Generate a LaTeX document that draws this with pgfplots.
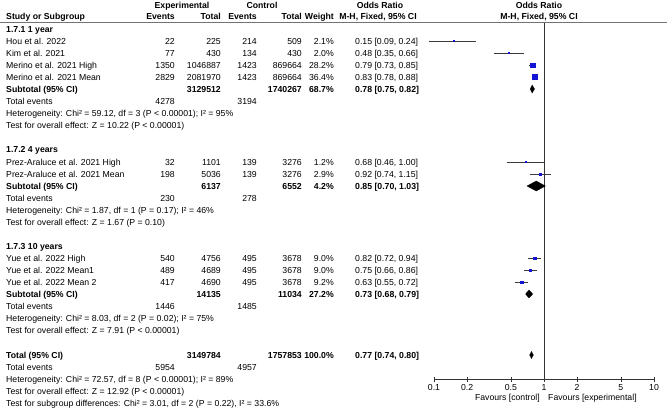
\documentclass[border=0pt]{standalone}
\usepackage{fontspec}
\setmainfont{Liberation Sans}
\usepackage{pgfplots}
\pgfplotsset{compat=1.18}
\definecolor{sqblue}{RGB}{20,20,210}
\definecolor{ciline}{RGB}{60,60,60}
\newcommand\fnt{\fontsize{8.7bp}{10bp}\selectfont}
\newcommand\Lt[3]{\node[anchor=base west,inner sep=0pt] at (#1,{-(#2)-3}) {#3};}
\newcommand\Rt[3]{\node[anchor=base east,inner sep=0pt] at (#1,{-(#2)-3}) {#3};}
\newcommand\Ct[3]{\node[anchor=base,inner sep=0pt] at (#1,{-(#2)-3}) {#3};}
\newcommand\Row[8]{%
  \Lt{6}{#1}{#2}\Rt{175}{#1}{#3}\Rt{221}{#1}{#4}\Rt{257}{#1}{#5}\Rt{302}{#1}{#6}\Rt{334}{#1}{#7}\Lt{355}{#1}{#8}}
\begin{document}
\begin{tikzpicture}[x=1bp,y=1bp,every node/.style={font=\fnt}]
\useasboundingbox (0,0) rectangle (667,-411);
\begin{axis}[at={(434bp,-379bp)}, anchor=south west, scale only axis,
  width=220bp, height=357bp, xmode=log, log basis x=10,
  xmin=0.1, xmax=10, ymin=-379, ymax=-22,
  axis x line=bottom, axis y line=none,
  axis line style={-, draw=black!80, line width=0.7bp},
  xtick={0.1,0.2,0.5,1,2,5,10}, xticklabels={0.1,0.2,0.5,1,2,5,10},
  xminorticks=false, tick align=center, major tick length=5bp,
  tick style={black!80, line width=0.7bp},
  /pgf/number format/assume math mode=true,
  xticklabel style={font=\fnt, inner sep=0pt, yshift=-2.5bp},
  clip=false]
% line of no effect
\addplot[black!80, line width=0.7bp] coordinates {(1,-22) (1,-379)};
% confidence intervals
\addplot[ciline, line width=0.7bp] coordinates {(0.09,-41) (0.24,-41)};
\addplot[ciline, line width=0.7bp] coordinates {(0.35,-53) (0.66,-53)};
\addplot[ciline, line width=0.7bp] coordinates {(0.73,-65) (0.85,-65)};
\addplot[ciline, line width=0.7bp] coordinates {(0.78,-77) (0.88,-77)};
\addplot[ciline, line width=0.7bp] coordinates {(0.46,-162) (1.00,-162)};
\addplot[ciline, line width=0.7bp] coordinates {(0.74,-174) (1.15,-174)};
\addplot[ciline, line width=0.7bp] coordinates {(0.72,-258) (0.94,-258)};
\addplot[ciline, line width=0.7bp] coordinates {(0.66,-270) (0.86,-270)};
\addplot[ciline, line width=0.7bp] coordinates {(0.55,-282) (0.72,-282)};
% study squares
\addplot[only marks, mark=square*, mark size=0.6bp, sqblue] coordinates {(0.15,-41)};
\addplot[only marks, mark=square*, mark size=0.6bp, sqblue] coordinates {(0.48,-53)};
\addplot[only marks, mark=square*, mark size=2.2bp, sqblue] coordinates {(0.79,-65)};
\addplot[only marks, mark=square*, mark size=2.5bp, sqblue] coordinates {(0.83,-77)};
\addplot[only marks, mark=square*, mark size=0.5bp, sqblue] coordinates {(0.68,-162)};
\addplot[only marks, mark=square*, mark size=0.7bp, sqblue] coordinates {(0.92,-174)};
\addplot[only marks, mark=square*, mark size=1.25bp, sqblue] coordinates {(0.82,-258)};
\addplot[only marks, mark=square*, mark size=1.25bp, sqblue] coordinates {(0.75,-270)};
\addplot[only marks, mark=square*, mark size=1.25bp, sqblue] coordinates {(0.63,-282)};
% diamonds
\addplot[fill=black, draw=black, line width=0.3bp] coordinates {(0.75,-89) (0.78,-85) (0.82,-89) (0.78,-93)} -- cycle;
\addplot[fill=black, draw=black, line width=0.3bp] coordinates {(0.70,-186) (0.85,-181) (1.03,-186) (0.85,-191)} -- cycle;
\addplot[fill=black, draw=black, line width=0.3bp] coordinates {(0.68,-294) (0.73,-290) (0.79,-294) (0.73,-298)} -- cycle;
\addplot[fill=black, draw=black, line width=0.3bp] coordinates {(0.74,-355) (0.77,-351.5) (0.80,-355) (0.77,-358.5)} -- cycle;
\end{axis}
% header
\draw[black!55, line width=1bp] (0,-22) -- (667,-22);
\begin{scope}[every node/.append style={font=\fnt\bfseries}]
\Ct{182}{5}{Experimental}
\Ct{262}{5}{Control}
\Ct{380}{5}{Odds Ratio}
\Ct{539}{5}{Odds Ratio}
\Lt{6}{16}{Study or Subgroup}
\Rt{175}{16}{Events}
\Rt{221}{16}{Total}
\Rt{257}{16}{Events}
\Rt{302}{16}{Total}
\Rt{334}{16}{Weight}
\Ct{378}{16}{M-H, Fixed, 95\% CI}
\Ct{539}{16}{M-H, Fixed, 95\% CI}
\Lt{6}{29}{1.7.1 1 year}
\Row{89}{Subtotal (95\% CI)}{}{3129512}{}{1740267}{68.7\%}{0.78 [0.75, 0.82]}
\Lt{6}{149}{1.7.2 4 years}
\Row{186}{Subtotal (95\% CI)}{}{6137}{}{6552}{4.2\%}{0.85 [0.70, 1.03]}
\Lt{6}{246}{1.7.3 10 years}
\Row{294}{Subtotal (95\% CI)}{}{14135}{}{11034}{27.2\%}{0.73 [0.68, 0.79]}
\Row{355}{Total (95\% CI)}{}{3149784}{}{1757853}{100.0\%}{0.77 [0.74, 0.80]}
\end{scope}
% group 1
\Row{41}{Hou et al. 2022}{22}{225}{214}{509}{2.1\%}{0.15 [0.09, 0.24]}
\Row{53}{Kim et al. 2021}{77}{430}{134}{430}{2.0\%}{0.48 [0.35, 0.66]}
\Row{65}{Merino et al. 2021 High}{1350}{1046887}{1423}{869664}{28.2\%}{0.79 [0.73, 0.85]}
\Row{77}{Merino et al. 2021 Mean}{2829}{2081970}{1423}{869664}{36.4\%}{0.83 [0.78, 0.88]}
\Row{101}{Total events}{4278}{}{3194}{}{}{}
\Lt{6}{113}{Heterogeneity: Chi² = 59.12, df = 3 (P < 0.00001); I² = 95\%}
\Lt{6}{125}{Test for overall effect: Z = 10.22 (P < 0.00001)}
% group 2
\Row{162}{Prez-Araluce et al. 2021 High}{32}{1101}{139}{3276}{1.2\%}{0.68 [0.46, 1.00]}
\Row{174}{Prez-Araluce et al. 2021 Mean}{198}{5036}{139}{3276}{2.9\%}{0.92 [0.74, 1.15]}
\Row{198}{Total events}{230}{}{278}{}{}{}
\Lt{6}{210}{Heterogeneity: Chi² = 1.87, df = 1 (P = 0.17); I² = 46\%}
\Lt{6}{222}{Test for overall effect: Z = 1.67 (P = 0.10)}
% group 3
\Row{258}{Yue et al. 2022 High}{540}{4756}{495}{3678}{9.0\%}{0.82 [0.72, 0.94]}
\Row{270}{Yue et al. 2022 Mean1}{489}{4689}{495}{3678}{9.0\%}{0.75 [0.66, 0.86]}
\Row{282}{Yue et al. 2022 Mean 2}{417}{4690}{495}{3678}{9.2\%}{0.63 [0.55, 0.72]}
\Row{306}{Total events}{1446}{}{1485}{}{}{}
\Lt{6}{318}{Heterogeneity: Chi² = 8.03, df = 2 (P = 0.02); I² = 75\%}
\Lt{6}{330}{Test for overall effect: Z = 7.91 (P < 0.00001)}
% overall
\Row{367}{Total events}{5954}{}{4957}{}{}{}
\Lt{6}{379}{Heterogeneity: Chi² = 72.57, df = 8 (P < 0.00001); I² = 89\%}
\Lt{6}{391}{Test for overall effect: Z = 12.92 (P < 0.00001)}
\Lt{6}{403}{Test for subgroup differences: Chi² = 3.01, df = 2 (P = 0.22), I² = 33.6\%}
% favours
\Rt{540}{397}{Favours [control]}
\Lt{548}{397}{Favours [experimental]}
\end{tikzpicture}
\end{document}
